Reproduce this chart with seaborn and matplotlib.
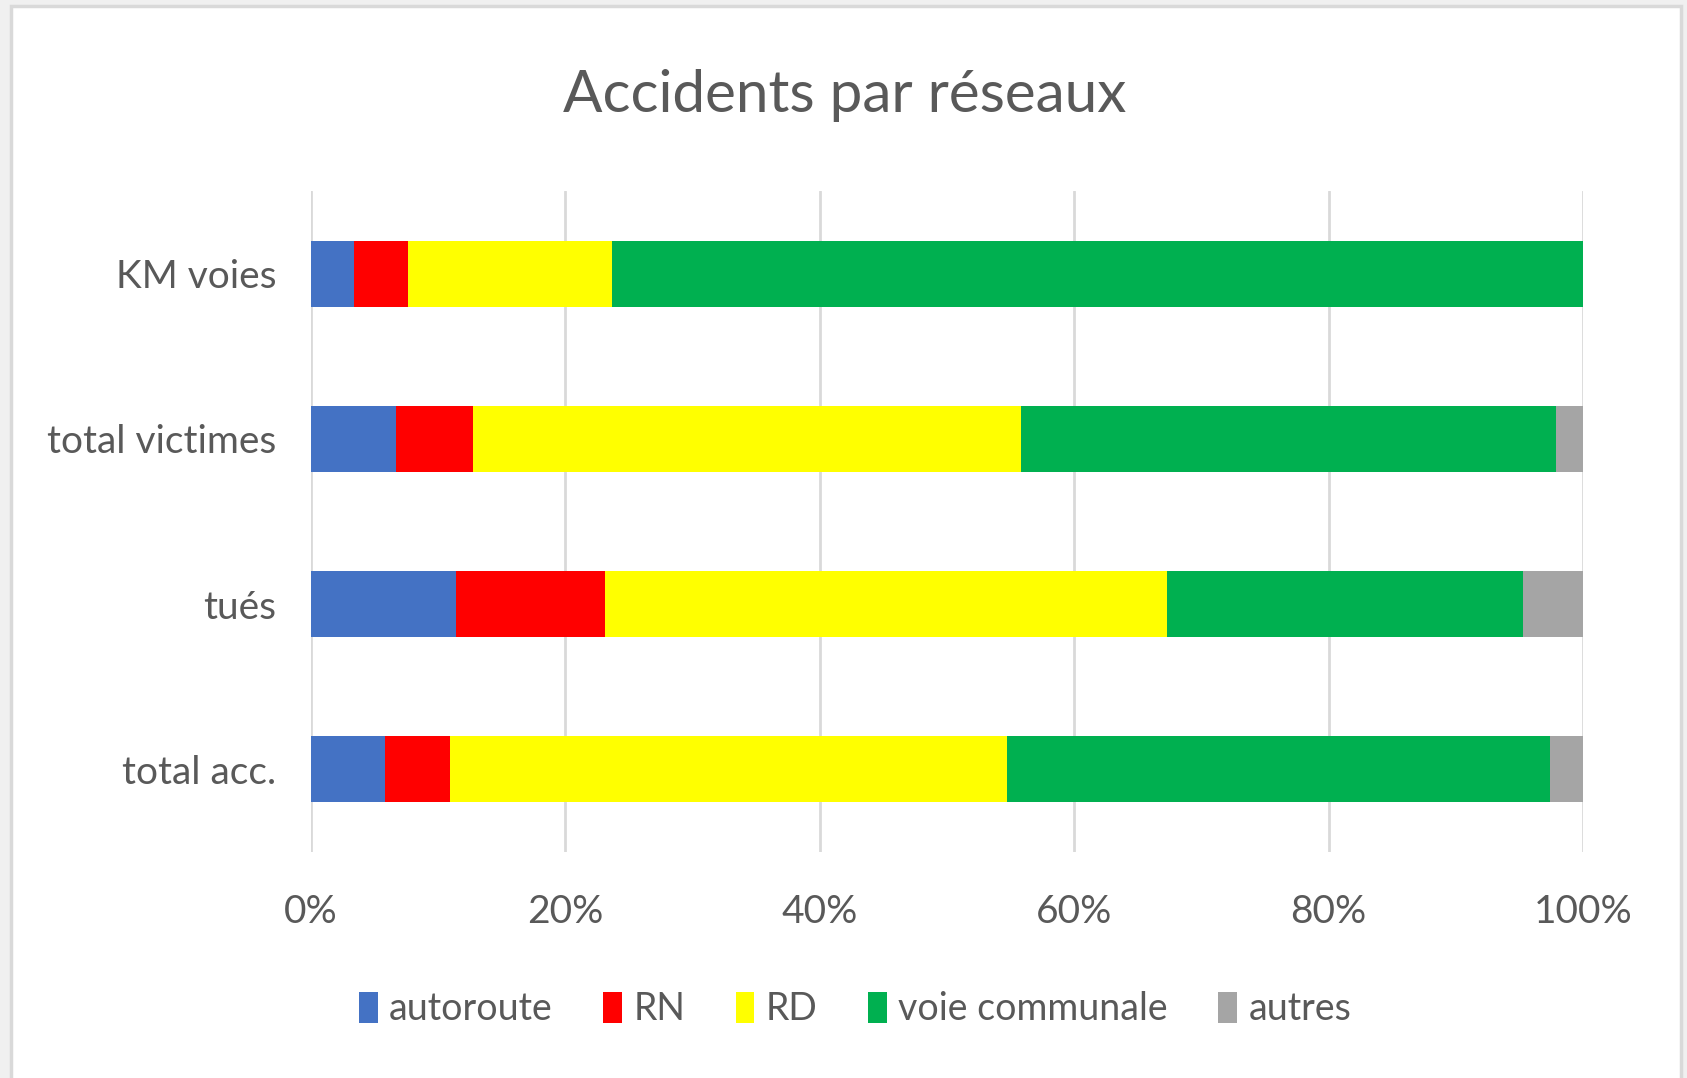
import numpy as np
import pandas as pd
import seaborn as sns
from matplotlib import pyplot as plt
from matplotlib.patches import Patch, Rectangle
from matplotlib.ticker import PercentFormatter

# categories, top to bottom
categories = ["KM voies", "total victimes", "tués", "total acc."]
# share of each network (%)
autoroute = [3.4, 6.7, 11.4, 5.8]
rn = [4.2, 6.0, 11.7, 5.1]
rd = [16.1, 43.1, 44.2, 43.8]
voie_communale = [76.3, 42.1, 28.0, 42.7]
autres = [0.0, 2.1, 4.7, 2.6]

series_names = ["autoroute", "RN", "RD", "voie communale", "autres"]
series_colors = ["#4472C4", "#FF0000", "#FFFF00", "#00B050", "#A5A5A5"]

df = pd.DataFrame({"cat": categories, "autoroute": autoroute, "RN": rn, "RD": rd,
                   "voie communale": voie_communale, "autres": autres})
# normalise to 100% (stacked 100 chart)
vals = df[series_names]
vals = vals.div(vals.sum(axis=1), axis=0) * 100
cum = vals.cumsum(axis=1)

sns.set_style("white")
plt.rcParams['font.family'] = ['Lato', 'DejaVu Sans']
txt = "#595959"

fig = plt.figure(figsize=(16.87, 10.78), dpi=100)
fig.patch.set_facecolor("#f0f0f0")
fig.patches.append(Rectangle((11 / 1687, -0.05), 1670 / 1687, 1.05 - 6 / 1078,
                             transform=fig.transFigure, facecolor="white",
                             edgecolor="#d9d9d9", linewidth=2.5, zorder=-10))

ax = fig.add_axes([311 / 1687, 1 - 852 / 1078, 1272 / 1687, 661 / 1078])
ax.set_facecolor("none")
ax.set_zorder(1)

# stacked bars: draw cumulative totals from the last series backwards
for name, color in reversed(list(zip(series_names, series_colors))):
    sns.barplot(x=cum[name].values, y=df["cat"], order=categories, orient="h",
                color=color, width=0.4, linewidth=0, saturation=1, ax=ax, zorder=3)

ax.set_xlim(0, 100)
ax.set_ylim(3.5, -0.5)
ax.set_xticks(np.arange(0, 101, 20))
ax.xaxis.set_major_formatter(PercentFormatter(decimals=0))
ax.grid(axis="x", color="#d9d9d9", linewidth=2, zorder=0)
ax.grid(axis="y", visible=False)
ax.set_axisbelow(True)
for s in ax.spines.values():
    s.set_visible(False)
ax.tick_params(axis="both", length=0, labelsize=28, labelcolor=txt)
ax.tick_params(axis="y", pad=25)
ax.tick_params(axis="x", pad=30)
ax.set_xlabel("")
ax.set_ylabel("")

fig.text(845 / 1687, 1 - 96 / 1078, "Accidents par réseaux", ha="center", va="center",
         fontsize=42, color=txt)

handles = [Patch(facecolor=c, edgecolor="none") for c in series_colors]
fig.legend(handles, series_names, loc="center", bbox_to_anchor=(855 / 1687, 1 - 1009 / 1078),
           ncol=5, frameon=False, fontsize=27, labelcolor=txt, handlelength=0.5,
           handleheight=0.9, handletextpad=0.3, columnspacing=1.35)

fig.savefig("out.png", dpi=100, facecolor=fig.get_facecolor())
